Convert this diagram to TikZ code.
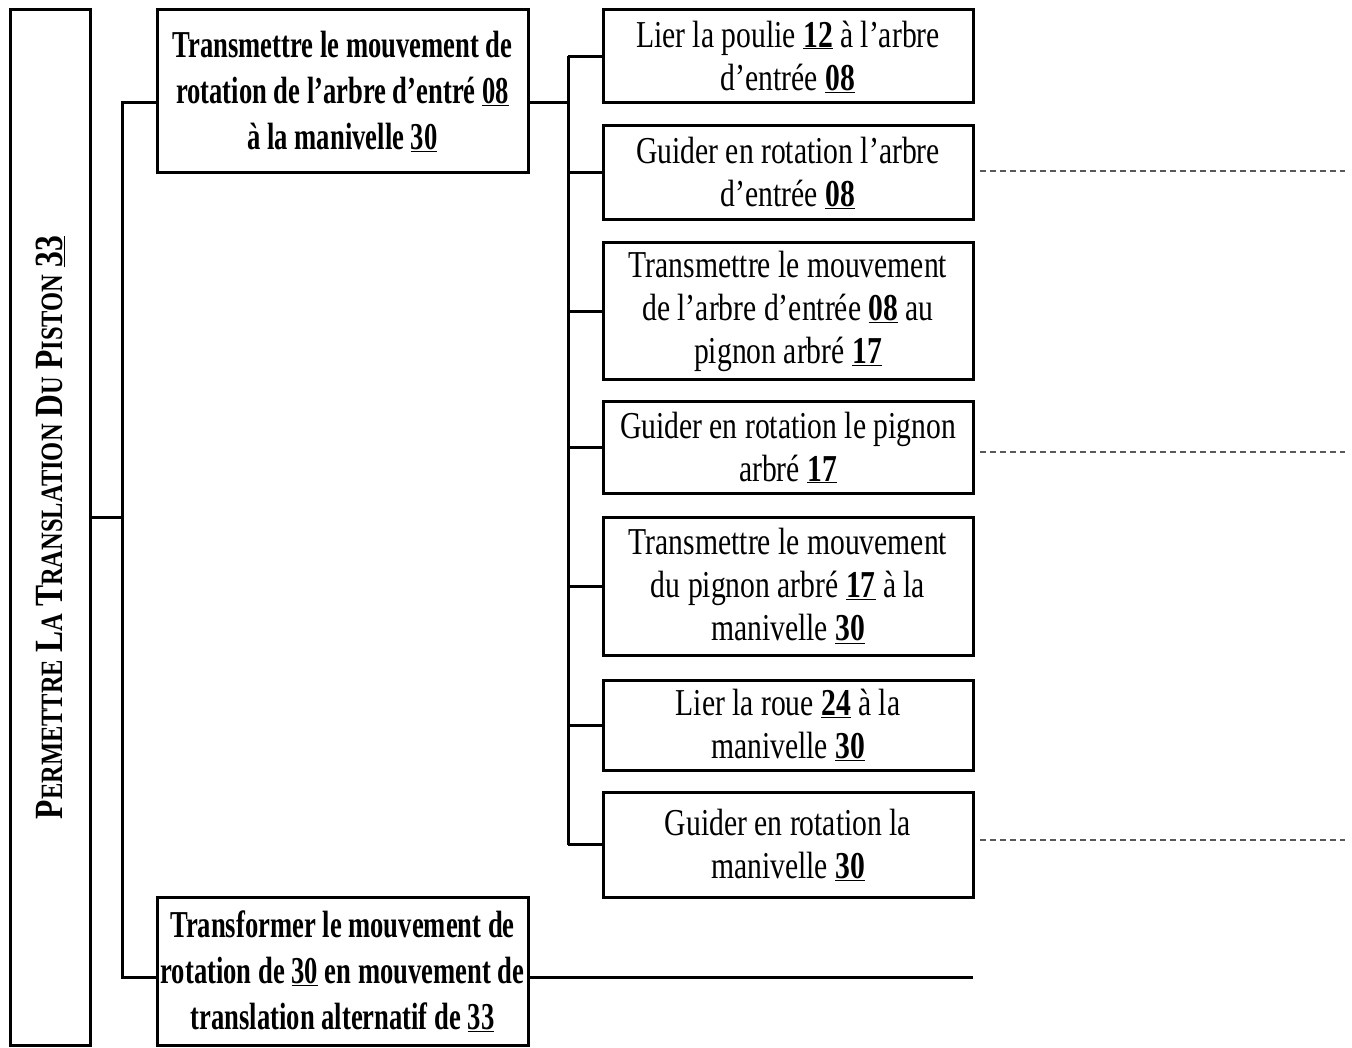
\documentclass[tikz,border=0pt]{standalone}
\usepackage{fontspec}
\setmainfont{Liberation Serif}[FakeStretch=0.78]
\newfontfamily\bfc{Liberation Serif}[FakeStretch=0.70]
\newfontfamily\vfc{Liberation Serif}[FakeStretch=0.79]
\newcommand\bigC[1]{{\fontsize{40}{40}\selectfont #1}}
\newcommand\smC[1]{{\fontsize{31}{31}\selectfont #1}}
\newcommand\nb[1]{\underline{\textbf{#1}}}
\begin{document}
\begin{tikzpicture}[x=1pt,y=1pt,
  box/.style={draw, line width=3pt, rectangle, inner sep=0pt, align=flush center},
  rbox/.style={box, minimum width=370pt, text width=366pt, font=\fontsize{38}{43}\selectfont},
  lbox/.style={box, minimum width=371pt, text width=367pt, font=\bfc\bfseries\fontsize{38}{46}\selectfont},
  conn/.style={line width=3pt},
  dashline/.style={line width=1.2pt, gray!70!black, dash pattern=on 6pt off 4pt}]
\useasboundingbox (0,0) rectangle (1352,-1048);
% main vertical box
\node[box, rotate=90, minimum width=1035pt, minimum height=80pt] (main) at (50,-527.5)
  {\vfc\bfseries\fontsize{36}{36}\selectfont\bigC{P}\smC{ERMETTRE} \bigC{L}\smC{A} \bigC{T}\smC{RANSLATION} \bigC{D}\smC{U} \bigC{P}\smC{ISTON} \bigC{\underline{33}}};
% left level boxes
\node[lbox, minimum height=163pt] (A) at (342.5,-91.5)
  {Transmettre le mouvement de\\ rotation de l’arbre d’entré \underline{08}\\ à la manivelle \underline{30}};
\node[lbox, minimum height=148pt] (B) at (342.5,-971)
  {Transformer le mouvement de\\ rotation de \underline{30} en mouvement de\\ translation alternatif de \underline{33}};
% right boxes
\node[rbox, minimum height=93pt] (R1) at (788,-56.5) {Lier la poulie \nb{12} à l’arbre\\ d’entrée \nb{08}};
\node[rbox, minimum height=94pt] (R2) at (788,-173) {Guider en rotation l’arbre\\ d’entrée \nb{08}};
\node[rbox, minimum height=137pt] (R3) at (788,-311.5) {Transmettre le mouvement\\ de l’arbre d’entrée \nb{08} au\\ pignon arbré \nb{17}};
\node[rbox, minimum height=91pt] (R4) at (788,-447.5) {Guider en rotation le pignon\\ arbré \nb{17}};
\node[rbox, minimum height=138pt] (R5) at (788,-586) {Transmettre le mouvement\\ du pignon arbré \nb{17} à la\\ manivelle \nb{30}};
\node[rbox, minimum height=90pt] (R6) at (788,-725) {Lier la roue \nb{24} à la\\ manivelle \nb{30}};
\node[rbox, minimum height=105pt] (R7) at (788,-844.5) {Guider en rotation la\\ manivelle \nb{30}};
% junction coordinates
\coordinate (j0) at (122,-517);
\coordinate (t1) at (122,-103);
\coordinate (t2) at (122,-977);
\coordinate (sp) at (568,-103);
\coordinate (bend) at (973,-977);
% dashed line ends
\coordinate (d2s) at (980,-171);  \coordinate (d2e) at (1345,-171);
\coordinate (d4s) at (980,-452);  \coordinate (d4e) at (1345,-452);
\coordinate (d7s) at (980,-840);  \coordinate (d7e) at (1345,-840);
% connectors
\draw[conn] (j0 -| main.south) -- (j0);
\draw[conn] (t1 -| A.west) -- (t1) -- (t2) -- (t2 -| B.west);
\draw[conn] (sp -| A.east) -- (sp);
\draw[conn] (R1.west -| sp) -- (R7.west -| sp);
\foreach \r in {R1,R2,R3,R4,R5,R6,R7}
  \draw[conn] (\r.west) -- (\r.west -| sp);
\draw[conn] (bend -| B.east) -- (bend);
% dashed lines
\foreach \d in {d2,d4,d7}
  \draw[dashline] (\d s) -- (\d e);
\end{tikzpicture}
\end{document}
